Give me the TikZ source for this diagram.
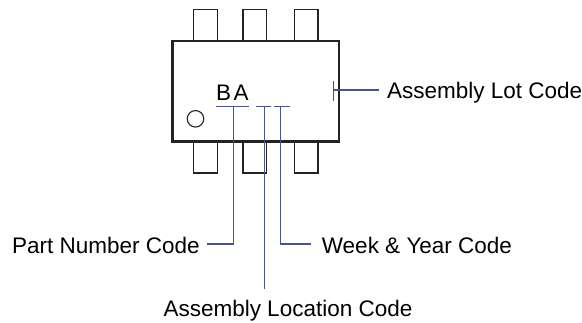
\documentclass[tikz,border=0pt]{standalone}
\usepackage{fontspec}
\setmainfont{Liberation Sans}
\definecolor{lead}{RGB}{70,85,140}
\definecolor{pkg}{RGB}{35,35,35}
\begin{document}
\begin{tikzpicture}[x=1pt,y=-1pt,
  lbl/.style={inner sep=0pt,font=\fontsize{22.5}{26}\selectfont},
  lead/.style={draw=lead,line width=1.2pt},
  pin/.style={draw=pkg,line width=1.2pt,fill=white},
  body/.style={draw=pkg,line width=2.2pt,fill=white}]
\useasboundingbox (0,0) rectangle (582,322);
% pins
\foreach \a/\b [count=\i] in {193.3/217.3,243/266.7,294.3/318}{
  \draw[pin] (\a,9.3) rectangle (\b,41) coordinate (tp\i);
  \draw[pin] (\a,141.5) rectangle (\b,173) coordinate (bp\i);
}
% body
\draw[body] (172.5,41) rectangle (339,141.5);
\node[draw=pkg,line width=1.1pt,circle,minimum size=16.5pt,inner sep=0pt] (dot) at (195.5,118.8) {};
% marking
\node[lbl,anchor=base west] (ba) at (216,100) {B\kern2.5pt A};
% underlines
\coordinate (u1a) at (216,106.5); \coordinate (u1b) at (249,106.5);
\coordinate (u2a) at (256,106.5); \coordinate (u2b) at (271,106.5);
\coordinate (u3a) at (274,106.5); \coordinate (u3b) at (289.5,106.5);
\draw[lead] (u1a) -- (u1b);
\draw[lead] (u2a) -- (u2b);
\draw[lead] (u3a) -- (u3b);
\coordinate (t1) at (233.7,106.5);
\coordinate (t2) at (264.7,106.5);
\coordinate (t3) at (280.5,106.5);
% labels
\node[lbl,anchor=base east] (pn) at (200,253) {Part Number Code};
\node[lbl,anchor=base west] (wy) at (321.7,253) {Week \& Year Code};
\node[lbl,anchor=base west] (al) at (163.3,316) {Assembly Location Code};
\node[lbl,anchor=base west] (lot) at (387,98) {Assembly Lot Code};
% connectors
\coordinate (pnE) at (206.7,244);
\coordinate (wyW) at (311,244);
\coordinate (alN) at (264.7,289);
\draw[lead] (pnE) -- (t1 |- pnE) -- (t1);
\draw[lead] (t2) -- (alN);
\draw[lead] (t3) -- (t3 |- wyW) -- (wyW);
\coordinate (lk) at (333.7,90);
\coordinate (lkT) at (333.7,81);
\coordinate (lkB) at (333.7,100.7);
\coordinate (lotW) at (378.7,90);
\draw[lead] (lkT) -- (lkB);
\draw[lead] (lk) -- (lotW);
\end{tikzpicture}
\end{document}
